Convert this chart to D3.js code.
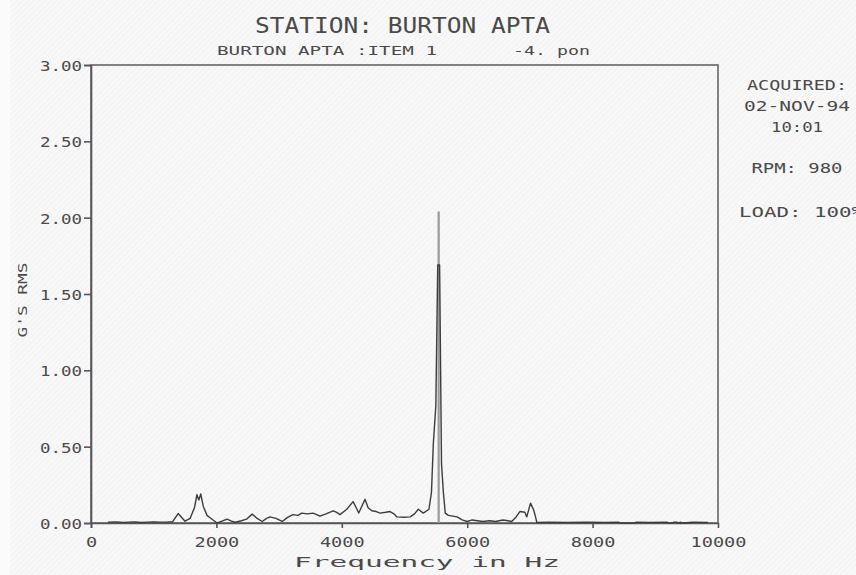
<!DOCTYPE html>
<html>
<head>
<meta charset="utf-8">
<script src="https://cdn.jsdelivr.net/npm/d3@7"></script>
<style>
  html, body { margin: 0; padding: 0; background: #f7f7f7; }
  svg { display: block; }
</style>
</head>
<body>
<div id="chart"></div>
<script>
// ---- data ----
const freqHz = [270, 400, 520, 600, 700, 800, 900, 1000, 1100, 1200, 1300, 1390, 1450, 1500, 1580, 1650, 1690, 1720, 1750, 1790, 1850, 1930, 2010, 2090, 2170, 2240, 2300, 2400, 2480, 2570, 2650, 2730, 2800, 2855, 2950, 3050, 3130, 3220, 3300, 3360, 3450, 3540, 3600, 3650, 3750, 3860, 3920, 3970, 4080, 4180, 4230, 4270, 4320, 4370, 4420, 4480, 4550, 4610, 4700, 4770, 4830, 4880, 4990, 5090, 5160, 5220, 5300, 5390, 5430, 5460, 5500, 5530, 5560, 5590, 5620, 5650, 5700, 5770, 5840, 5920, 6000, 6080, 6160, 6250, 6360, 6450, 6570, 6650, 6710, 6780, 6840, 6920, 6950, 7010, 7060, 7090, 7110, 7300, 7600, 7900, 8200, 8420, 8440, 8670, 8690, 8900, 9190, 9210, 9270, 9290, 9350, 9370, 9410, 9430, 9600, 9840];
const gRms   = [0.006, 0.007, 0.004, 0.006, 0.007, 0.004, 0.006, 0.007, 0.006, 0.006, 0.008, 0.062, 0.035, 0.012, 0.03, 0.10, 0.185, 0.15, 0.19, 0.11, 0.05, 0.025, 0.0, 0.012, 0.025, 0.012, 0.005, 0.015, 0.025, 0.058, 0.03, 0.01, 0.03, 0.04, 0.03, 0.01, 0.035, 0.055, 0.05, 0.065, 0.06, 0.065, 0.055, 0.045, 0.06, 0.08, 0.07, 0.055, 0.09, 0.14, 0.10, 0.065, 0.11, 0.155, 0.10, 0.08, 0.075, 0.065, 0.07, 0.075, 0.06, 0.04, 0.038, 0.04, 0.06, 0.09, 0.065, 0.09, 0.20, 0.52, 0.77, 1.69, 1.69, 0.39, 0.20, 0.065, 0.05, 0.045, 0.04, 0.02, 0.01, 0.02, 0.015, 0.01, 0.015, 0.01, 0.02, 0.015, 0.01, 0.04, 0.075, 0.07, 0.04, 0.13, 0.085, 0.04, 0.004, 0.005, 0.004, 0.005, 0.004, 0.005, 0.0, 0.0, 0.005, 0.004, 0.005, 0.0, 0.0, 0.005, 0.005, 0.0, 0.005, 0.0, 0.005, 0.004];
const peakFreq = [5545];
const peakValue = [2.04];
const yTickValues = [0, 0.5, 1.0, 1.5, 2.0, 2.5, 3.0];
const xTickValues = [0, 2000, 4000, 6000, 8000, 10000];
const titleText = "STATION: BURTON APTA";
const subtitleLeft = "BURTON APTA :ITEM 1";
const subtitleRight = "-4. pon";
const yAxisTitle = "G'S RMS";
const xAxisTitle = "Frequency in Hz";
const sideNotes = ["ACQUIRED:", "02-NOV-94", "10:01", "RPM: 980", "LOAD: 100%"];

// ---- layout ----
const W = 856, H = 575;
const plot = { left: 91, right: 718, top: 65, bottom: 523 };
const textColor = "#4a4a4a";
const lineColor = "#555";
const FONT = "'DejaVu Sans Mono', 'Liberation Mono', monospace";

const svg = d3.select("#chart").append("svg")
  .attr("width", W).attr("height", H);

const defs = svg.append("defs");
const pat = defs.append("pattern")
  .attr("id", "hatch").attr("width", 4).attr("height", 4)
  .attr("patternUnits", "userSpaceOnUse")
  .attr("patternTransform", "rotate(45)");
pat.append("rect").attr("width", 4).attr("height", 4).attr("fill", "#f8f8f8");
pat.append("line").attr("x1", 0).attr("y1", 0).attr("x2", 0).attr("y2", 4)
  .attr("stroke", "#efefef").attr("stroke-width", 1.2);

svg.append("rect").attr("width", W).attr("height", H).attr("fill", "url(#hatch)");
svg.append("rect").attr("width", 10).attr("height", H).attr("fill", "#fbfbfb");

const x = d3.scaleLinear().domain([0, 10000]).range([plot.left, plot.right]);
const y = d3.scaleLinear().domain([0, 3]).range([plot.bottom, plot.top]);

function styledText(sel, str, len) {
  sel.text(str)
    .attr("font-family", FONT)
    .attr("fill", textColor)
    .attr("textLength", len)
    .attr("lengthAdjust", "spacingAndGlyphs");
  return sel;
}

// frame
svg.append("rect")
  .attr("x", plot.left).attr("y", plot.top)
  .attr("width", plot.right - plot.left).attr("height", plot.bottom - plot.top)
  .attr("fill", "none").attr("stroke", "#666").attr("stroke-width", 1.6);

// y axis
const yAxis = svg.append("g")
  .attr("transform", `translate(${plot.left},0)`)
  .call(d3.axisLeft(y).tickValues(yTickValues).tickSize(7).tickFormat(d3.format(".2f")));
yAxis.select(".domain").attr("stroke", lineColor).attr("stroke-width", 1.6);
yAxis.selectAll(".tick line").attr("stroke", lineColor).attr("stroke-width", 1.6);
yAxis.selectAll(".tick text").each(function(d) {
  const t = d3.select(this);
  styledText(t, d3.format(".2f")(d), 42)
    .attr("x", -9).attr("dy", null).attr("y", 5.5)
    .attr("font-size", 14.5).attr("text-anchor", "end");
});

// x axis
const xAxis = svg.append("g")
  .attr("transform", `translate(0,${plot.bottom})`)
  .call(d3.axisBottom(x).tickValues(xTickValues).tickSize(5).tickFormat(d3.format("d")));
xAxis.select(".domain").attr("stroke", lineColor).attr("stroke-width", 1.6);
xAxis.selectAll(".tick line").attr("stroke", lineColor).attr("stroke-width", 1.6);
xAxis.selectAll(".tick text").each(function(d) {
  const t = d3.select(this);
  const s = String(d);
  styledText(t, s, s.length * 11.2)
    .attr("y", 23.5).attr("dy", null)
    .attr("font-size", 14.5).attr("text-anchor", "middle");
});
xAxis.selectAll(".tick").filter(d => d === 10000).select("line").remove();

// peak (lighter top of the spike)
svg.append("g").selectAll("line.peak")
  .data(peakFreq.map((f, i) => ({ f, v: peakValue[i] })))
  .join("line")
  .attr("x1", d => x(d.f)).attr("x2", d => x(d.f))
  .attr("y1", y(0)).attr("y2", d => y(d.v))
  .attr("stroke", "#9a9a9a").attr("stroke-width", 2.2);

// spectrum line
const pts = freqHz.map((f, i) => [f, gRms[i]]);
svg.append("path")
  .datum(pts)
  .attr("fill", "none")
  .attr("stroke", "#3c3c3c")
  .attr("stroke-width", 1.4)
  .attr("stroke-linejoin", "round")
  .attr("d", d3.line().x(d => x(d[0])).y(d => y(d[1])));

// titles
styledText(svg.append("text"), titleText, 295)
  .attr("x", 255).attr("y", 33).attr("font-size", 22);
styledText(svg.append("text"), subtitleLeft, 220)
  .attr("x", 217).attr("y", 55).attr("font-size", 11.5);
styledText(svg.append("text"), subtitleRight, 77)
  .attr("x", 513).attr("y", 55).attr("font-size", 11.5);

// axis titles
styledText(svg.append("text"), xAxisTitle, 266)
  .attr("x", 294).attr("y", 567).attr("font-size", 14);
styledText(svg.append("text"), yAxisTitle, 75)
  .attr("transform", "translate(27,300) rotate(-90)")
  .attr("text-anchor", "middle").attr("font-size", 12.5);

// side notes
const noteY = [90, 111, 132, 173, 217];
const noteW = [100, 106, 52, 91, 125];
svg.append("g").selectAll("text")
  .data(sideNotes)
  .join("text")
  .each(function(d, i) {
    const t = d3.select(this);
    styledText(t, d, noteW[i])
      .attr("font-size", 14.5)
      .attr("y", noteY[i]);
    if (i === 4) t.attr("x", 739).attr("text-anchor", "start");
    else t.attr("x", 797).attr("text-anchor", "middle");
  });
</script>
</body>
</html>
